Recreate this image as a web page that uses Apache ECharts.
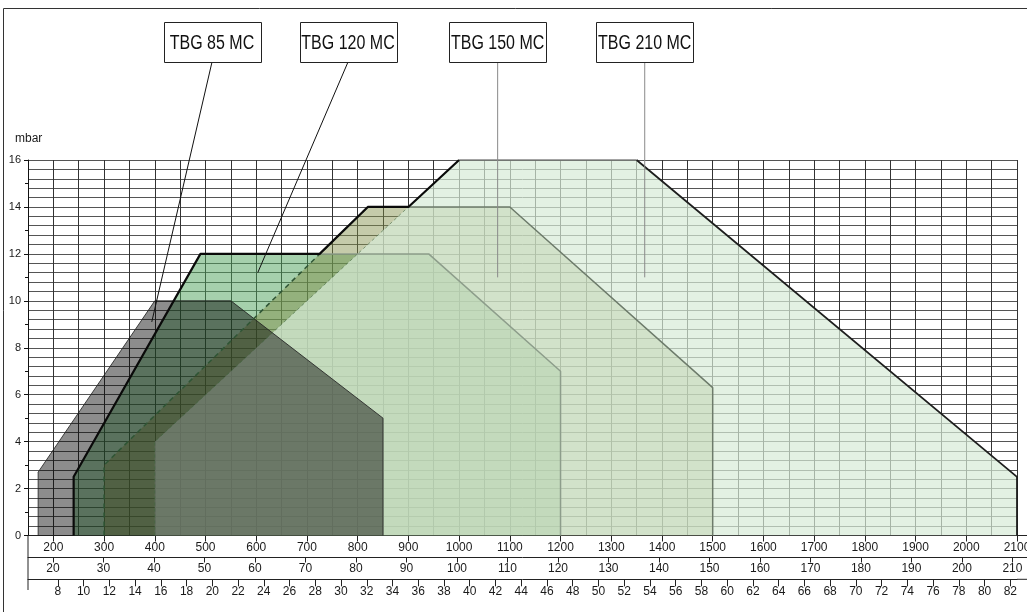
<!DOCTYPE html>
<html><head><meta charset="utf-8">
<script src="https://cdn.jsdelivr.net/npm/echarts@6/dist/echarts.min.js"></script>
<style>html,body{margin:0;padding:0;background:#fff}#c{width:1027px;height:612px}</style>
</head><body><div id="c"></div>
<script>
// ---------- data ----------
const kwTicks   = [200,300,400,500,600,700,800,900,1000,1100,1200,1300,1400,1500,1600,1700,1800,1900,2000,2100];
const row2Ticks = [20,30,40,50,60,70,80,90,100,110,120,130,140,150,160,170,180,190,200,210];
const row3Ticks = [8,10,12,14,16,18,20,22,24,26,28,30,32,34,36,38,40,42,44,46,48,50,52,54,56,58,60,62,64,66,68,70,72,74,76,78,80,82];
const tbg85  = [[170,0],[170,2.7],[400,10],[550,10],[850,5],[850,0]];
const tbg120 = [[240,0],[240,2.5],[490,12],[940,12],[1200,7],[1200,0]];
const tbg150 = [[300,0],[300,3],[820,14],[1100,14],[1500,6.3],[1500,0]];
const tbg210 = [[400,0],[400,4],[1000,16],[1350,16],[2100,2.5],[2100,0]];
const envelope = [[240,0],[240,2.5],[490,12],[725,12],[820,14],[900,14],[1000,16]];
const modelNames = ['TBG 85 MC','TBG 120 MC','TBG 150 MC','TBG 210 MC'];
const modelPointers = [[394,9.1],[603,11.2],[1076,11],[1366,11]];

// ---------- chart ----------
const SANS = '"Liberation Sans",Arial,sans-serif';
const chart = echarts.init(document.getElementById('c'), null, {renderer:'canvas'});

function fill(pts, color, z){
  return {type:'line', data:pts, xAxisIndex:0, yAxisIndex:0, symbol:'none', showSymbol:false,
    silent:true, z:z, animation:false, lineStyle:{width:0, opacity:0},
    areaStyle:{color:color, opacity:1, origin:'start'}};
}
function outline(pts, color, width, dash, z){
  return {type:'line', data:pts, xAxisIndex:0, yAxisIndex:0, symbol:'none', showSymbol:false,
    silent:true, z:z||10, animation:false,
    lineStyle:{color:color, width:width, type: dash || 'solid'}};
}
const BOX_CX = [212, 348, null, null];

const hiddenAxisParts = {axisLine:{show:false}, axisTick:{show:false}, axisLabel:{show:false}};
function plain(v){ return String(Math.round(v)); }
function rowAxis(min, max, offset, ticks, tickLen, margin){
  return {type:'value', min:min, max:max, position:'bottom', offset:offset, gridIndex:0,
    axisLine:{show:true, lineStyle:{color:'#222', width:1}},
    axisTick:{show:true, inside:false, length:tickLen, customValues:ticks, lineStyle:{color:'#222', width:1}},
    axisLabel:{show:true, customValues:ticks, margin:margin, fontSize:12, fontFamily:SANS, color:'#1a1a1a',
      hideOverlap:false, formatter:plain},
    splitLine:{show:false}, minorTick:{show:false}};
}

const option = {
  backgroundColor:'#fff',
  animation:false,
  grid:{left:28, right:10, top:160, bottom:76.5, containLabel:false, outerBoundsMode:'none'},
  xAxis:[
    Object.assign({type:'value', min:150, max:2100, interval:50,
      splitLine:{show:true, lineStyle:{color:'#333', width:1}}}, hiddenAxisParts),
    rowAxis(150, 2100, 0, kwTicks, 6, 6),
    rowAxis(15.05, 210.9, 22, row2Ticks, 5, 5),
    rowAxis(5.68, 82.52, 43.8, row3Ticks, 7, 6)
  ],
  yAxis:[
    {type:'value', min:0, max:16, interval:2, position:'left',
      axisLine:{show:true, lineStyle:{color:'#111', width:1}},
      axisTick:{show:true, inside:false, length:4, lineStyle:{color:'#111'}},
      minorTick:{show:true, splitNumber:2, length:3, lineStyle:{color:'#111'}},
      axisLabel:{show:true, margin:7, fontSize:11, fontFamily:SANS, color:'#1a1a1a', formatter:plain},
      splitLine:{show:true, lineStyle:{color:'#111', width:1}}},
    Object.assign({type:'value', min:0, max:16, interval:0.4, position:'left',
      splitLine:{show:true, lineStyle:{color:'#555', width:1}}}, hiddenAxisParts)
  ],
  series:[
    fill(tbg120, 'rgba(75,161,89,0.5)', 2),
    fill(tbg150, 'rgba(129,142,70,0.46)', 3),
    fill(tbg210, 'rgba(215,235,215,0.7)', 4),
    fill(tbg85,  'rgba(0,0,0,0.45)', 5),
    outline(tbg85, 'rgba(35,35,35,0.85)', 1),
    outline(tbg120.slice(2), '#8d9d8b', 1.5),
    outline(tbg150.slice(0,3), '#2f5535', 1.5, [5,4]),
    outline(tbg150.slice(2), '#6d7b6b', 1.5),
    outline(tbg210.slice(0,3), 'rgba(60,100,60,0.55)', 1, [3,3]),
    outline(tbg210.slice(2,4), '#5e5e5e', 1.6),
    outline(tbg210.slice(3), '#1e1e1e', 1.8),
    outline(envelope, '#0a0a0a', 2.2, null, 11),
    {type:'custom', coordinateSystem:'cartesian2d', xAxisIndex:0, yAxisIndex:0, clip:false, silent:true, z:20,
      data:modelPointers,
      renderItem:function(params, api){
        const i = params.dataIndex;
        const tip = api.coord([api.value(0), api.value(1)]);
        const cx = BOX_CX[i] == null ? tip[0] : BOX_CX[i];
        const top = 22, h = 40, w = 97;
        return {type:'group', children:[
          {type:'line', shape:{x1:cx, y1:top+h, x2:tip[0], y2:tip[1]},
            style:{stroke: i < 2 ? '#111' : '#8a8a8a', lineWidth:1}},
          {type:'rect', shape:{x:Math.round(cx-w/2)+0.5, y:top+0.5, width:w, height:h},
            style:{fill:'#fff', stroke:'#222', lineWidth:1}},
          {type:'text', x:cx, y:top+h/2+1, scaleX:0.8,
            style:{text:modelNames[i], x:0, y:0, align:'center', verticalAlign:'middle',
              font:'20px ' + SANS, fill:'#111'}}
        ]};
      }}
  ],
  graphic:[
    {type:'line', shape:{x1:3.5, y1:8.5, x2:1027, y2:8.5}, style:{stroke:'#333', lineWidth:1}, silent:true},
    {type:'line', shape:{x1:3.5, y1:8.5, x2:3.5, y2:612}, style:{stroke:'#333', lineWidth:1}, silent:true},
    {type:'line', shape:{x1:28, y1:535.5, x2:28, y2:590}, style:{stroke:'#222', lineWidth:1}, silent:true},
    {type:'line', shape:{x1:1017, y1:535.5, x2:1027, y2:535.5}, style:{stroke:'#222', lineWidth:1}, silent:true},
    {type:'line', shape:{x1:1017, y1:557.5, x2:1027, y2:557.5}, style:{stroke:'#222', lineWidth:1}, silent:true},
    {type:'line', shape:{x1:1017, y1:579.3, x2:1027, y2:579.3}, style:{stroke:'#222', lineWidth:1}, silent:true},
    {type:'text', left:15, top:133, style:{text:'mbar', font:'12px ' + SANS, fill:'#1a1a1a'}, silent:true}
  ]
};
chart.setOption(option);
</script>
</body></html>
